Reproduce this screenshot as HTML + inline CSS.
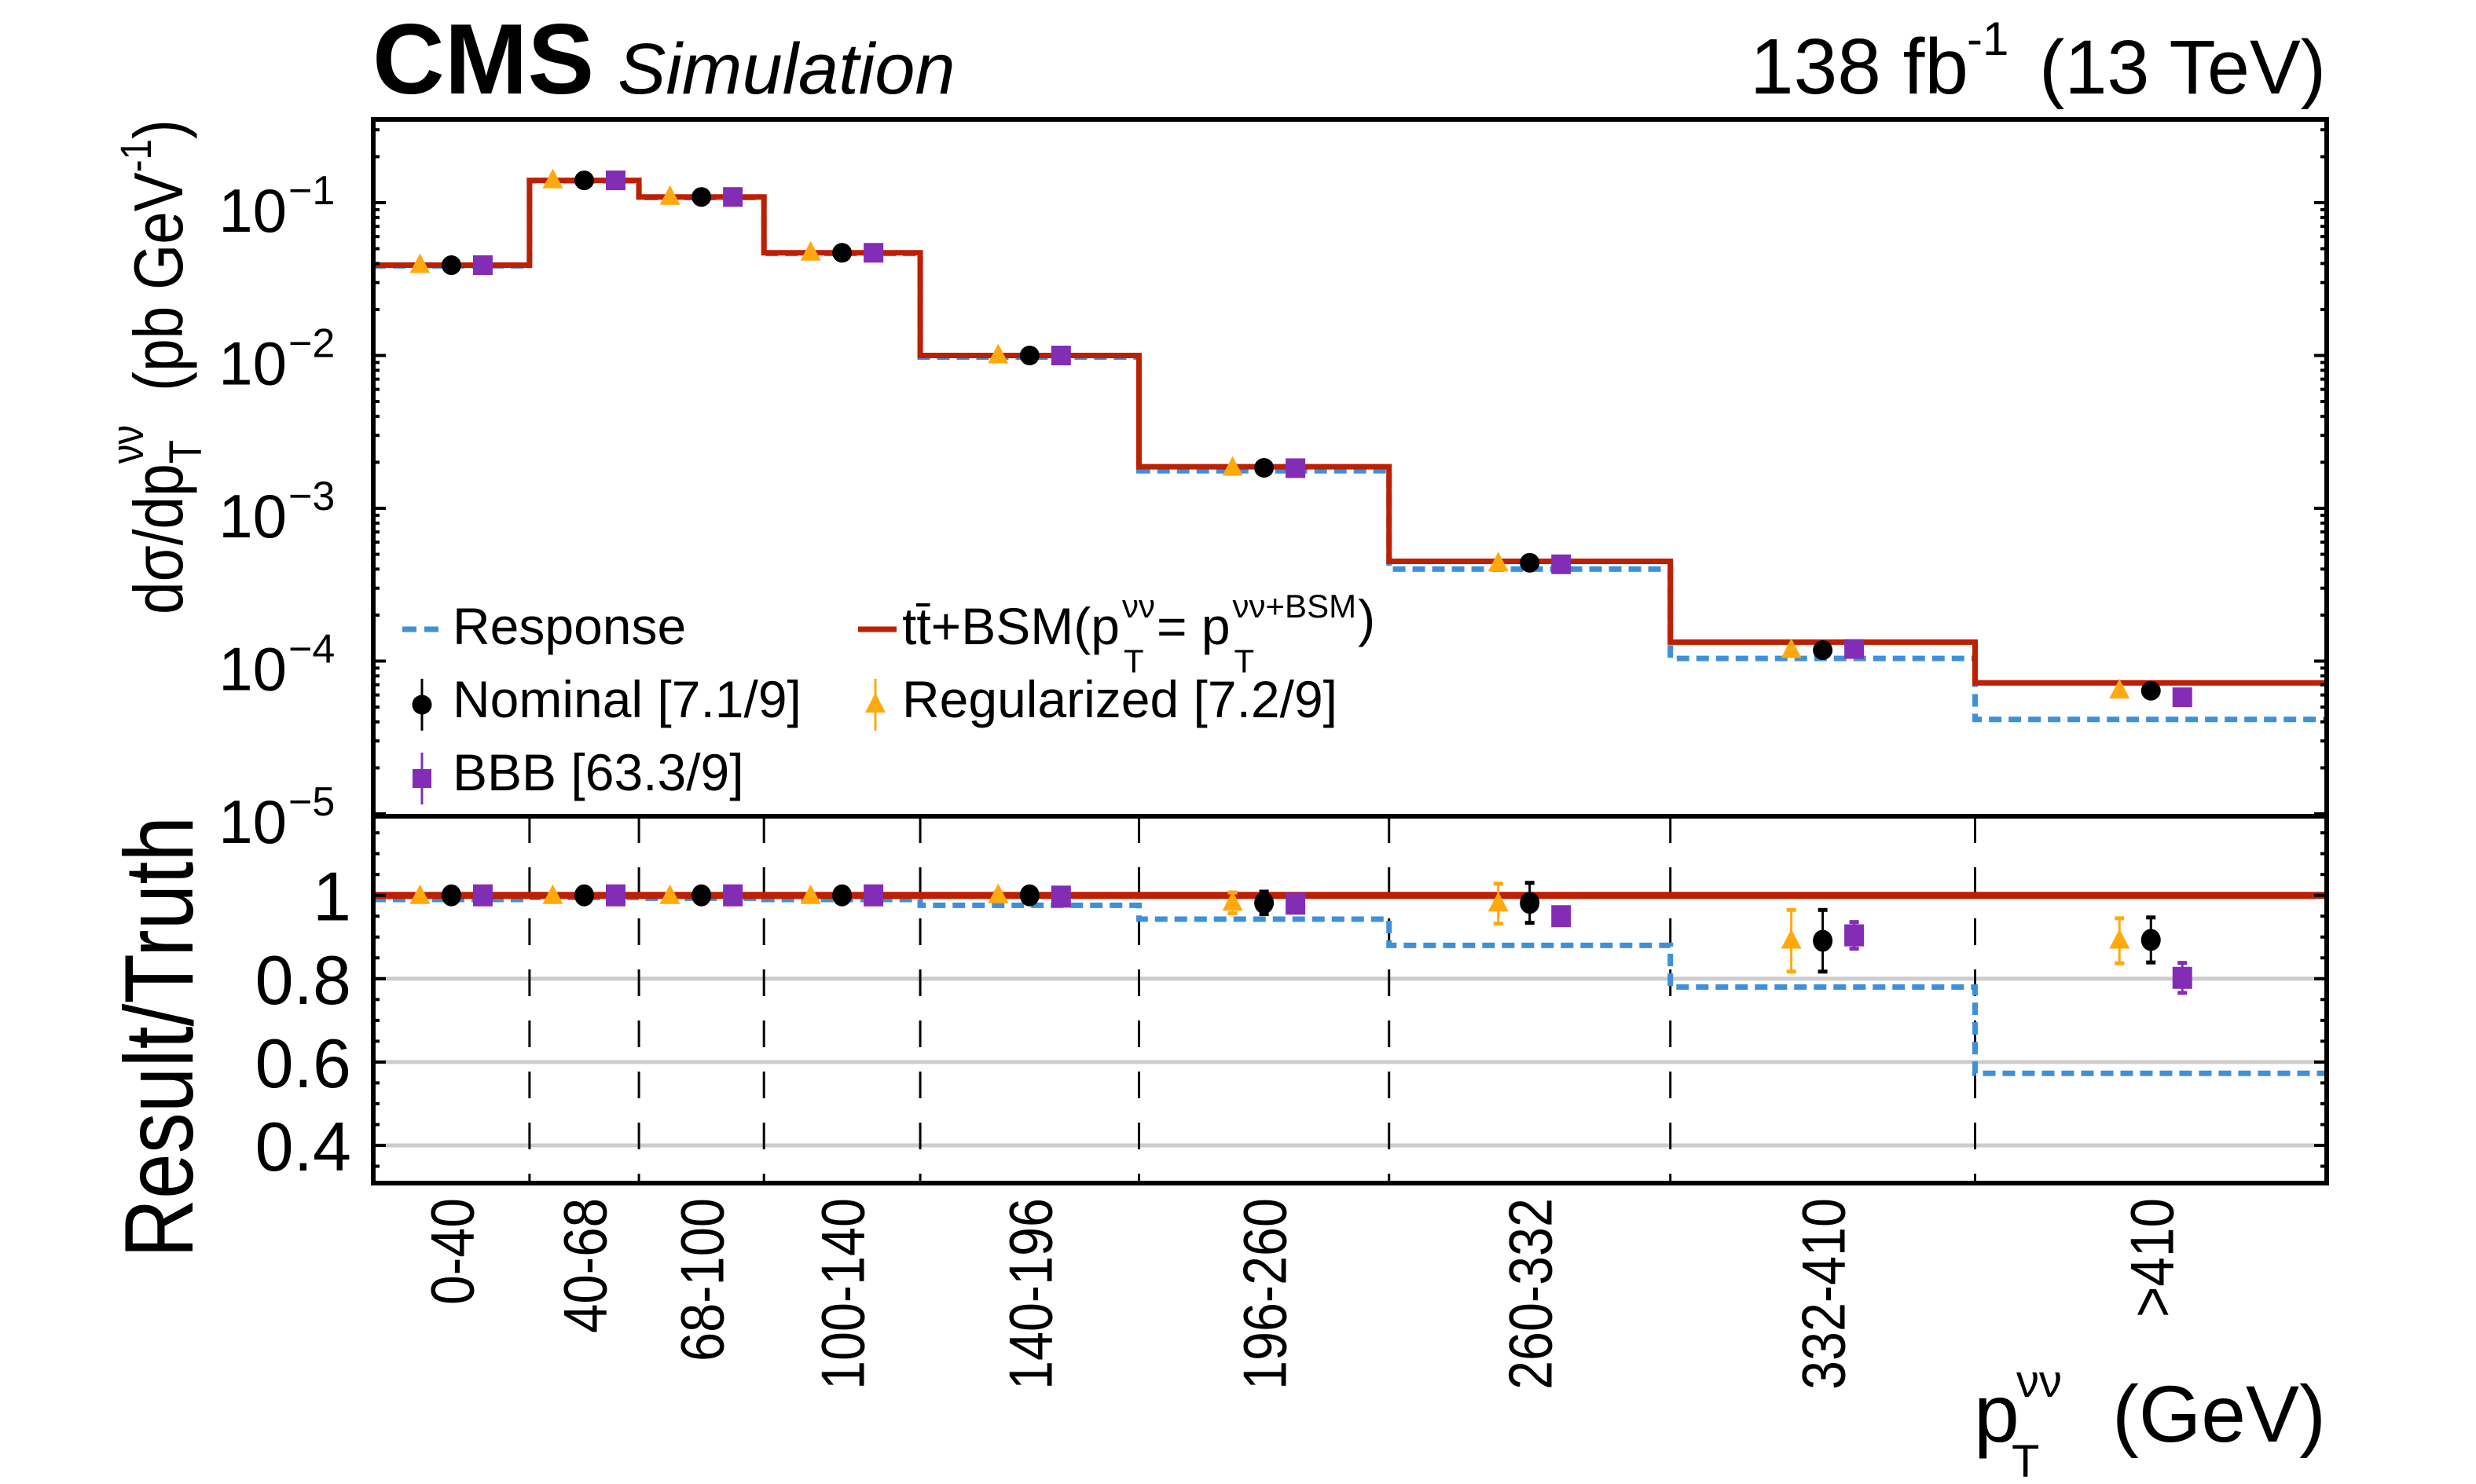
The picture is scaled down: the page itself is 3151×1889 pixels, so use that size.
<!DOCTYPE html>
<html><head><meta charset="utf-8"><style>
html,body{margin:0;padding:0;background:#fff;}
svg{display:block;font-family:"Liberation Sans",Arial,sans-serif;}
</style></head><body>
<svg id="chart" xmlns="http://www.w3.org/2000/svg" width="3151" height="1889" viewBox="0 0 3151 1889">
<rect x="0" y="0" width="3151" height="1889" fill="#fff"/>
<g id="lower-grid"></g>
<g id="marks"></g>
<g id="axes"></g>
<text x="474" y="119" font-size="127" font-weight="bold">CMS</text>
<text x="786" y="119" font-size="92" font-style="italic">Simulation</text>
<text x="2227" y="119" font-size="100">138 fb</text>
<text x="2503" y="70" font-size="60">-1</text>
<text x="2960" y="119" font-size="97" text-anchor="end">(13 TeV)</text>
<g transform="translate(232,782) rotate(-90)">
<g transform="scale(0.85,1)">
<text x="0" y="0" font-size="88">dσ/dp<tspan font-size="58" dy="-50">νν</tspan><tspan font-size="58" dx="-58" dy="74">T</tspan><tspan dy="-24">&#160;&#160;&#160;(pb GeV</tspan><tspan font-size="56" dy="-40">-1</tspan><tspan dy="40">)</tspan></text>
</g></g>
<text transform="translate(245,1320) rotate(-90)" font-size="124" text-anchor="middle" textLength="562" lengthAdjust="spacingAndGlyphs">Result/Truth</text>
<text x="2512" y="1835" font-size="104">p</text>
<text x="2566" y="1778" font-size="58">νν</text>
<text x="2560" y="1880" font-size="58">T</text>
<text x="2960" y="1835" font-size="102" text-anchor="end">(GeV)</text>
<g font-size="66">
  <line x1="512" y1="801" x2="561" y2="801" stroke="#3f90da" stroke-width="7" stroke-dasharray="18 10"/>
  <text x="576" y="820">Response</text>
  <line x1="537" y1="864" x2="537" y2="930" stroke="#000" stroke-width="3"/>
  <circle cx="537" cy="897" r="12.5" fill="#000"/>
  <text x="576" y="913">Nominal [7.1/9]</text>
  <line x1="537" y1="958" x2="537" y2="1024" stroke="#832db6" stroke-width="3"/>
  <rect x="525" y="979" width="24" height="24" fill="#832db6"/>
  <text x="576" y="1006">BBB [63.3/9]</text>
  <line x1="1092" y1="801" x2="1141" y2="801" stroke="#bd1f01" stroke-width="7"/>
  <text id="lt1" x="1148" y="820">tt̄+BSM(p</text>
  <text id="lt1s" x="1443" y="786" font-size="42">νν</text>
  <text id="lt1b" x="1445" y="856" font-size="42">T</text>
  <text id="lt2" x="1492" y="820">= p</text>
  <text id="lt2s" x="1596" y="786" font-size="42">νν+BSM</text>
  <text id="lt2b" x="1598" y="856" font-size="42">T</text>
  <text id="lt3" x="1768" y="810">)</text>
  <line x1="1114" y1="864" x2="1114" y2="930" stroke="#ffa90e" stroke-width="3"/>
  <polygon points="1114,882 1127,907 1101,907" fill="#ffa90e"/>
  <text x="1148" y="913">Regularized [7.2/9]</text>
</g>
</svg>
<script>
const binLabels = ['0-40','40-68','68-100','100-140','140-196','196-260','260-332','332-410','>410'];
const binEdges = [0,40,68,100,140,196,260,332,410,500];
const truthVals = [0.039,0.140,0.109,0.047,0.0100,0.00187,4.5e-4,1.33e-4,7.2e-5];
const responseVals = [0.0386,0.139,0.108,0.0465,0.00976,0.00176,4.0e-4,1.04e-4,4.15e-5];
const nominalUp = [0.039,0.140,0.109,0.047,0.0100,0.00184,4.4e-4,1.18e-4,6.4e-5];
const regUp = [0.039,0.140,0.109,0.047,0.0100,0.00184,4.35e-4,1.18e-4,6.4e-5];
const bbbUp = [0.039,0.140,0.109,0.047,0.0100,0.00183,4.3e-4,1.2e-4,5.8e-5];
const responseRatio = [0.99,0.995,0.993,0.99,0.976,0.943,0.88,0.78,0.573];
const nominalRatio = [1.0,1.0,1.0,1.0,1.0,0.982,0.982,0.891,0.893];
const nominalErr = [0.006,0.006,0.006,0.006,0.008,0.027,0.048,0.074,0.054];
const regRatio = [0.998,0.998,0.998,0.998,1.0,0.982,0.98,0.891,0.891];
const regErr = [0.005,0.005,0.005,0.005,0.007,0.025,0.048,0.074,0.054];
const bbbRatio = [1.0,1.0,1.0,1.0,0.997,0.98,0.95,0.904,0.802];
const bbbErr = [0.012,0.012,0.012,0.012,0.012,0.02,0.02,0.032,0.036];
const upperTicks = [-1,-2,-3,-4,-5];
const lowerTicks = [1,0.8,0.6,0.4];

const NS='http://www.w3.org/2000/svg';
const X0=475, X1=2961, YT=152, YS=1039, YB=1506;
function xS(p){return X0 + p*(X1-X0)/500;}
function yU(v){return 258 - (Math.log10(v)+1)*194.5;}
function yL(r){return 1139.7 - (r-1)*530.5;}
function mk(tag, attrs, parent){const e=document.createElementNS(NS,tag);for(const k in attrs)e.setAttribute(k,attrs[k]);parent.appendChild(e);return e;}
const marks=document.getElementById('marks'), axes=document.getElementById('axes'), grid=document.getElementById('lower-grid');

(function(){
  const a=document.getElementById('lt1'); let x=1148+a.getComputedTextLength()+3;
  document.getElementById('lt1s').setAttribute('x',x);
  document.getElementById('lt1b').setAttribute('x',x+2);
  x+=document.getElementById('lt1s').getComputedTextLength()+2;
  const m=document.getElementById('lt2'); m.setAttribute('x',x);
  x+=m.getComputedTextLength()+3;
  document.getElementById('lt2s').setAttribute('x',x);
  document.getElementById('lt2b').setAttribute('x',x+2);
  x+=document.getElementById('lt2s').getComputedTextLength()+2;
  document.getElementById('lt3').setAttribute('x',x);
})();

lowerTicks.forEach(t=>{ if(t<1){
  const g=mk('line',{x1:X0,x2:X1,y1:yL(t),y2:yL(t),stroke:'#cccccc','stroke-width':5},grid);
  
  
}});
for(let i=1;i<binEdges.length-1;i++){
  const d=mk('line',{x1:xS(binEdges[i]),x2:xS(binEdges[i]),y1:YS,y2:YB,stroke:'#000','stroke-width':3,'stroke-dasharray':'34 31'},grid);
  
  
}
function stepPath(vals, yf){
  let s='M'+xS(binEdges[0])+' '+yf(vals[0]);
  for(let i=0;i<vals.length;i++){
    if(i>0) s+=' V'+yf(vals[i]);
    s+=' H'+xS(binEdges[i+1]);
  }
  return s;
}
const resp=mk('path',{d:stepPath(responseVals,yU),fill:'none',stroke:'#3f90da','stroke-width':7,'stroke-dasharray':'16 9'},marks);


const tru=mk('path',{d:stepPath(truthVals,yU),fill:'none',stroke:'#bd1f01','stroke-width':7},marks);


const respR=mk('path',{d:stepPath(responseRatio,yL),fill:'none',stroke:'#3f90da','stroke-width':7,'stroke-dasharray':'16 9'},marks);


const truR=mk('line',{x1:X0,x2:X1,y1:yL(1),y2:yL(1),stroke:'#bd1f01','stroke-width':9},marks);



function errbar(x,y1,y2,col){
  const g=mk('g',{},marks);
  mk('line',{x1:x,x2:x,y1:y1,y2:y2,stroke:col,'stroke-width':3},g);
  mk('line',{x1:x-6,x2:x+6,y1:y1,y2:y1,stroke:col,'stroke-width':5},g);
  mk('line',{x1:x-6,x2:x+6,y1:y2,y2:y2,stroke:col,'stroke-width':5},g);
  return g;
}
function tri(x,y,col){return mk('polygon',{points:`${x},${y-15} ${x+13},${y+10} ${x-13},${y+10}`,fill:col},marks);}
for(let i=0;i<binLabels.length;i++){
  const c=(xS(binEdges[i])+xS(binEdges[i+1]))/2;
  const t1=tri(c-40,yU(regUp[i]),'#ffa90e');
  
  
  const c1=mk('circle',{cx:c,cy:yU(nominalUp[i]),r:12.5,fill:'#000'},marks);
  
  
  const s1=mk('rect',{x:c+40-12.5,y:yU(bbbUp[i])-12.5,width:25,height:25,fill:'#832db6'},marks);
  
  
  const e1=errbar(c-40,yL(regRatio[i]+regErr[i]),yL(regRatio[i]-regErr[i]),'#ffa90e');
  
  
  const t2=tri(c-40,yL(regRatio[i]),'#ffa90e');
  
  
  const e2=errbar(c,yL(nominalRatio[i]+nominalErr[i]),yL(nominalRatio[i]-nominalErr[i]),'#000');
  
  
  const c2=mk('ellipse',{cx:c,cy:yL(nominalRatio[i]),rx:12.5,ry:14,fill:'#000'},marks);
  
  
  const e3=errbar(c+40,yL(bbbRatio[i]+bbbErr[i]),yL(bbbRatio[i]-bbbErr[i]),'#832db6');
  
  
  const s2=mk('rect',{x:c+40-12.5,y:yL(bbbRatio[i])-14,width:25,height:28,fill:'#832db6'},marks);
  
  
  const lab=binLabels[i];
  let len=0; for(const ch of lab){len += ch==='-'?28:(ch==='>'?44:36);}
  const tl=mk('text',{transform:`translate(${c+28},1525) rotate(-90)`,'font-size':78,'text-anchor':'end',textLength:len,lengthAdjust:'spacingAndGlyphs'},axes);
  tl.textContent=lab;
  
  
}
const f1=mk('rect',{x:X0,y:YT,width:X1-X0,height:YS-YT,fill:'none',stroke:'#000','stroke-width':6},axes);


const f2=mk('rect',{x:X0,y:YS,width:X1-X0,height:YB-YS,fill:'none',stroke:'#000','stroke-width':6},axes);


for(let d=-6; d<=0; d++){
  for(let m=1;m<10;m++){
    const v=m*Math.pow(10,d); const y=yU(v);
    if(y<YT+3||y>YS-3) continue;
    const L=m===1?16:8;
    const a=mk('line',{x1:X0,x2:X0+L,y1:y,y2:y,stroke:'#000','stroke-width':4},axes);
    
    
    const b=mk('line',{x1:X1-L,x2:X1,y1:y,y2:y,stroke:'#000','stroke-width':4},axes);
    
    
  }
}
upperTicks.forEach(e=>{
  const y=yU(Math.pow(10,e));
  const t=mk('text',{x:365,y:y+37,'font-size':78,'text-anchor':'end'},axes);
  t.textContent='10';
  
  
  const s=mk('text',{x:367,y:y+2,'font-size':52},axes);
  s.textContent='\u2212'+Math.abs(e);
  
  
});
for(let k=0;k<=18;k++){
  const r=0.3+k*0.05; const y=yL(r);
  if(y<YS+3||y>YB-3) continue;
  const major=Math.abs((r*10)%2)<0.01||Math.abs((r*10)%2-2)<0.01;
  const L=major?16:8;
  const a=mk('line',{x1:X0,x2:X0+L,y1:y,y2:y,stroke:'#000','stroke-width':4},axes);
  
  
  const b=mk('line',{x1:X1-L,x2:X1,y1:y,y2:y,stroke:'#000','stroke-width':4},axes);
  
  
}
lowerTicks.forEach(r=>{
  const t=mk('text',{x:447,y:yL(r)+32,'font-size':88,'text-anchor':'end'},axes);
  t.textContent=String(r);
  
  
});
</script>
</body></html>
